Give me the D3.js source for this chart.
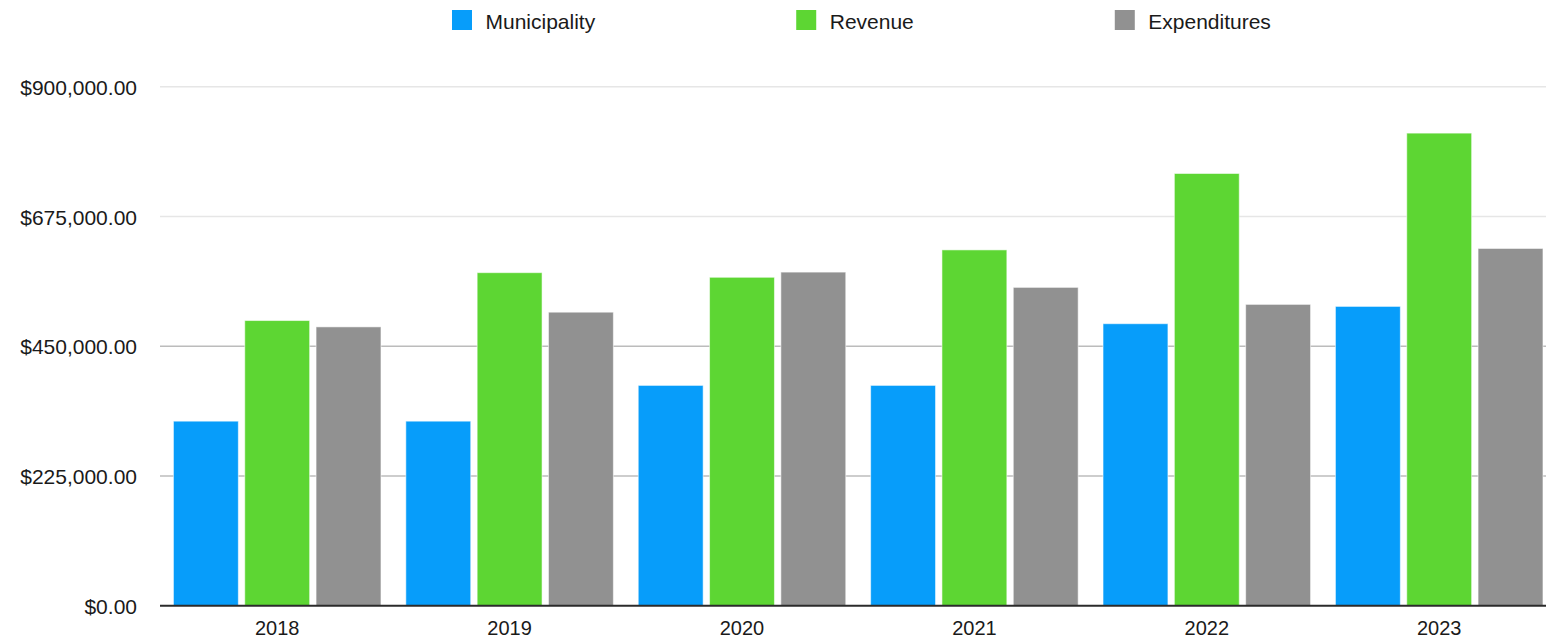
<!DOCTYPE html>
<html>
<head>
<meta charset="utf-8">
<script src="https://cdn.jsdelivr.net/npm/d3@7"></script>
<style>
  html, body { margin: 0; padding: 0; background: #fff; }
  svg { display: block; font-family: "Liberation Sans", Arial, Helvetica, sans-serif; }
</style>
</head>
<body>
<svg id="chart" width="1546" height="643"></svg>
<script>
const years = ["2018", "2019", "2020", "2021", "2022", "2023"];
const seriesNames = ["Municipality", "Revenue", "Expenditures"];
const municipality = [320000, 320000, 382000, 382000, 489000, 519000];
const revenue = [494500, 577500, 569500, 617000, 749500, 819500];
const expenditures = [483500, 509000, 578500, 552000, 522500, 619500];
const yTicks = [0, 225000, 450000, 675000, 900000];
const colors = ["#079DFA", "#5DD633", "#919191"];

const seriesValues = [municipality, revenue, expenditures];
const rows = years.map((y, i) => ({ year: y, values: seriesNames.map((s, k) => ({ key: s, k, value: seriesValues[k][i] })) }));

const svg = d3.select("#chart");
const plotLeft = 160, plotRight = 1546;
const y0 = 605.7, yTop = 86.7;

const y = d3.scaleLinear().domain([0, 900000]).range([y0, yTop]);

const x = d3.scaleBand().domain(years).range([161, 161 + 6 * 232.4]).paddingInner(0.107).paddingOuter(0.0535);
const xi = d3.scaleBand().domain(seriesNames).range([0, x.bandwidth()]).paddingInner(0.09).paddingOuter(0);

const fmt = v => "$" + d3.format(",.2f")(v);

// gridlines
const grid = svg.append("g");
grid.selectAll("line").data(yTicks.filter(d => d > 0)).join("line")
  .attr("x1", plotLeft).attr("x2", plotRight)
  .attr("y1", d => y(d)).attr("y2", d => y(d))
  .attr("stroke", d => d >= 675000 ? "#e6e6e6" : "#bcbcbc")
  .attr("stroke-width", 1.6);

// y labels
const yAxis = d3.axisLeft(y).tickValues(yTicks).tickFormat(fmt).tickSize(0).tickPadding(0);
const yg = svg.append("g").attr("transform", `translate(137,0)`).call(yAxis);
yg.select(".domain").remove();
yg.selectAll("text").attr("font-size", 21).attr("fill", "#1a1a1a").attr("dy", "0.36em")
  .attr("font-family", "'Liberation Sans', Arial, sans-serif");

// bars
const groups = svg.append("g").selectAll("g").data(rows).join("g")
  .attr("transform", d => `translate(${x(d.year)},0)`);
groups.selectAll("rect").data(d => d.values).join("rect")
  .attr("x", d => xi(d.key))
  .attr("width", xi.bandwidth())
  .attr("y", d => y(d.value))
  .attr("height", d => y0 - y(d.value))
  .attr("fill", d => colors[d.k])
  .attr("stroke", "rgba(255,255,255,0.55)")
  .attr("stroke-width", 1);

// baseline axis
svg.append("line").attr("x1", plotLeft).attr("x2", plotRight).attr("y1", y0).attr("y2", y0)
  .attr("stroke", "#2b2b2b").attr("stroke-width", 2);

// x labels
const xAxis = d3.axisBottom(x).tickSize(0).tickPadding(0);
const xg = svg.append("g").attr("transform", `translate(0,${y0})`).call(xAxis);
xg.select(".domain").remove();
xg.selectAll("text").attr("font-size", 20).attr("fill", "#1a1a1a").attr("dy", "1.45em")
  .attr("font-family", "'Liberation Sans', Arial, sans-serif");

// legend
const legend = svg.append("g").attr("transform", "translate(452,0)");
let lx = 0;
seriesNames.forEach((name, k) => {
  const g = legend.append("g").attr("transform", `translate(${lx},0)`);
  g.append("rect").attr("x", 0).attr("y", 10).attr("width", 20).attr("height", 20).attr("fill", colors[k]);
  const t = g.append("text").attr("x", 33.5).attr("y", 28.5).attr("font-size", 21)
    .attr("fill", "#1a1a1a").text(name);
  const w = t.node().getComputedTextLength();
  lx += 33.5 + w + 201;
});
</script>
</body>
</html>
